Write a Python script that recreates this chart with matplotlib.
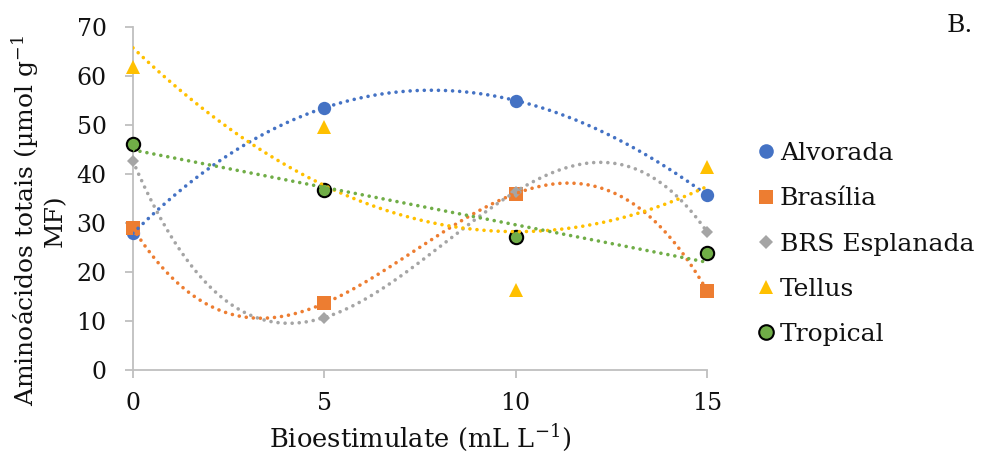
import numpy as np
import matplotlib
matplotlib.use("Agg")
import matplotlib.pyplot as plt
from matplotlib.lines import Line2D

plt.rcParams['font.family'] = ['DejaVu Serif']
plt.rcParams['mathtext.fontset'] = 'dejavuserif'

doses = [0, 5, 10, 15]
series_names = ["Alvorada", "Brasília", "BRS Esplanada", "Tellus", "Tropical"]
alvorada = [27.9, 53.5, 55.0, 35.7]
brasilia = [28.9, 13.6, 36.0, 16.2]
brs_esplanada = [42.6, 10.7, 36.4, 28.2]
tellus = [61.8, 49.5, 16.4, 41.4]
tropical = [46.1, 36.7, 27.2, 23.8]
trend_orders = [3, 3, 3, 2, 1]
y_ticks = [0, 10, 20, 30, 40, 50, 60, 70]
x_ticks = [0, 5, 10, 15]

values = [alvorada, brasilia, brs_esplanada, tellus, tropical]
colors = ["#4472C4", "#ED7D31", "#A5A5A5", "#FFC000", "#70AD47"]
markers = ["o", "s", "D", "^", "o"]
msizes = [9.6, 9.5, 6.6, 10, 9.6]
edges = [None, None, None, None, "black"]

fig = plt.figure(figsize=(9.84, 4.54), dpi=100)
ax = fig.add_axes([133/984, 1-370/454, (707-133)/984, (370-27)/454])

xs = np.linspace(0, 15, 400)
for name, v, c, m, ms, ec, order in zip(series_names, values, colors, markers, msizes, edges, trend_orders):
    kw = dict(marker=m, color=c, markersize=ms, linestyle="none", zorder=3, label=name,
              clip_on=False)
    if ec:
        kw.update(markeredgecolor=ec, markeredgewidth=1.5)
    else:
        kw.update(markeredgecolor=c, markeredgewidth=0)
    ax.plot(doses, v, **kw)
    coef = np.polyfit(doses, v, order)
    ax.plot(xs, np.polyval(coef, xs), color=c, linewidth=2.6,
            linestyle=(0, (0.01, 1.95)), dash_capstyle="round", zorder=4)

ax.set_xlim(0, 15)
ax.set_ylim(0, 70)
ax.set_xticks(x_ticks)
ax.set_yticks(y_ticks)
for s in ["top", "right"]:
    ax.spines[s].set_visible(False)
for s in ["left", "bottom"]:
    ax.spines[s].set_color("#BFBFBF")
    ax.spines[s].set_linewidth(1.3)
ax.tick_params(axis="both", colors="#BFBFBF", length=6, width=1.3, labelsize=17,
               labelcolor="#111111")
ax.tick_params(axis="x", pad=10)
ax.tick_params(axis="y", pad=13)

fig.text(420/984, 1-438/454, "Bioestimulate (mL L$^{-1}$)", ha="center", va="center",
         fontsize=18.5, color="#111111")
fig.text(38/984, 1-221/454, "Aminoácidos totais (µmol g$^{-1}$\nMF)", ha="center",
         va="center", rotation=90, fontsize=18, color="#111111", multialignment="center",
         linespacing=1.15)
fig.text(960/984, 1-25/454, "B.", ha="center", va="center", fontsize=18, color="#111111")

handles = []
for name, c, m, ec in zip(series_names, colors, markers, edges):
    ms = 10.5 if m != "D" else 7.4
    handles.append(Line2D([], [], marker=m, color=c, linestyle="none", markersize=ms,
                          markeredgecolor=ec if ec else c, markeredgewidth=1.5 if ec else 0))
leg = fig.legend(handles, series_names, loc="center left", bbox_to_anchor=(746/984, 1-244/454),
                 frameon=False, fontsize=18, handlelength=0.6, handletextpad=0.25,
                 labelspacing=0.89, borderpad=0)
for t in leg.get_texts():
    t.set_color("#111111")

fig.savefig("out.png", dpi=100)
